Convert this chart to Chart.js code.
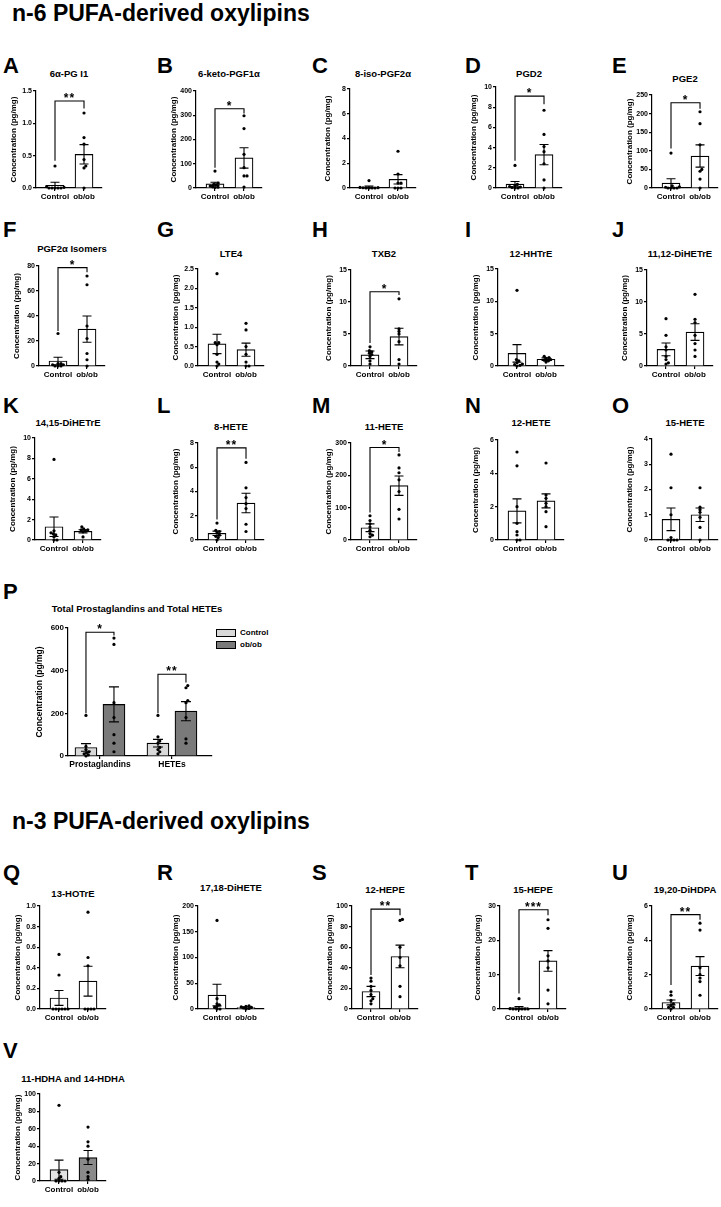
<!DOCTYPE html>
<html>
<head>
<meta charset="utf-8">
<script src="https://cdn.jsdelivr.net/npm/chart.js@4.4.1/dist/chart.umd.min.js"></script>
<style>
  html, body { margin: 0; background: #fff; }
  body { position: relative; width: 721px; height: 1207px; overflow: hidden; font-family: 'Liberation Sans', Arial, sans-serif; }
  canvas { position: absolute; }
  .box { position: absolute; width: 18px; height: 6px; border: 1px solid #000; }
</style>
</head>
<body>
<script>
const categories = ['Control', 'ob/ob'];
const yTitle = 'Concentration (pg/mg)';

// each panel: points per group, bar means, SEM, [axis max, step], [stars, bracket top, left leg, right leg]
const pgi1Pts = [[0.34, 0.02, 0.01, 0, 0, 0, 0, 0], [1.16, 0.78, 0.68, 0.44, 0.34, 0.31, 0]];
const pgi1Bar = [0.04, 0.52];
const pgi1Err = [0.05, 0.15];
const pgi1Axis = [1.5, 0.5];
const pgi1Sig = ['**', 1.345, 0.42, 1.23];

const ketoPts = [[70, 20, 15, 12, 8, 5, 3, 2], [298, 245, 139, 84, 50, 50, 4]];
const ketoBar = [17, 124];
const ketoErr = [7, 42];
const ketoAxis = [400, 100];
const ketoSig = ['*', 327, 84, 307];

const isoPts = [[0.6, 0.05, 0.03, 0.02, 0, 0, 0, 0], [2.97, 1.13, 0.4, 0.4, 0, 0, 0]];
const isoBar = [0.08, 0.7];
const isoErr = [0.07, 0.38];
const isoAxis = [8, 2];

const pgd2Pts = [[2.24, 0.35, 0.25, 0.15, 0.1, 0.05, 0, 0], [7.7, 5.3, 4.1, 3.6, 2.4, 0.8, 0]];
const pgd2Bar = [0.38, 3.3];
const pgd2Err = [0.26, 1.0];
const pgd2Axis = [10, 2];
const pgd2Sig = ['*', 9.1, 2.7, 8.3];

const pge2Pts = [[94, 6, 3, 2, 0, 0, 0, 0], [205, 173, 116, 50, 45, 24, 0]];
const pge2Bar = [13, 86];
const pge2Err = [12, 30];
const pge2Axis = [250, 50];
const pge2Sig = ['*', 229, 106, 213];

const pgfIsoPts = [[26, 2, 2, 1, 1, 0, 0, 0], [72, 65, 32, 22, 10, 5, 0]];
const pgfIsoBar = [4, 29.5];
const pgfIsoErr = [3, 10.5];
const pgfIsoAxis = [80, 20];
const pgfIsoSig = ['*', 78.7, 28, 75];

const lte4Pts = [[2.38, 0.6, 0.6, 0.55, 0.3, 0.1, 0.05, 0], [1.1, 0.93, 0.5, 0.3, 0.1, 0, 0]];
const lte4Bar = [0.57, 0.42];
const lte4Err = [0.25, 0.17];
const lte4Axis = [2.5, 0.5];

const txb2Pts = [[3.0, 2.4, 2.2, 2.0, 1.8, 1.5, 0.8, 0.3], [10.5, 5.8, 5.4, 5.0, 3.8, 1.0, 0.3]];
const txb2Bar = [1.75, 4.6];
const txb2Err = [0.6, 1.3];
const txb2Axis = [15, 5];
const txb2Sig = ['*', 11.6, 3.6, 11.1];

const hhtrePts = [[11.7, 1.0, 0.8, 0.5, 0.3, 0.2, 0.1, 0], [1.5, 1.3, 1.2, 1.0, 0.9, 0.8, 0.6]];
const hhtreBar = [1.95, 1.05];
const hhtreErr = [1.35, 0.2];
const hhtreAxis = [15, 5];

const dh1112Pts = [[7.4, 4.8, 3.0, 2.5, 1.5, 1.0, 0.5, 0.3], [11.2, 7.3, 6.8, 4.8, 3.5, 2.5, 1.5]];
const dh1112Bar = [2.6, 5.3];
const dh1112Err = [1.0, 1.3];
const dh1112Axis = [15, 5];

const dh1415Pts = [[7.9, 0.9, 0.7, 0.6, 0.5, 0.3, 0, 0], [1.3, 1.1, 1.0, 1.0, 0.9, 0.8, 0.3]];
const dh1415Bar = [1.3, 0.85];
const dh1415Err = [0.95, 0.15];
const dh1415Axis = [10, 2];

const hete8Pts = [[1.4, 0.8, 0.7, 0.6, 0.4, 0.3, 0.2, 0], [6.4, 4.3, 3.5, 3.0, 2.6, 1.3, 0.7]];
const hete8Bar = [0.55, 3.05];
const hete8Err = [0.18, 0.8];
const hete8Axis = [8, 2];
const hete8Sig = ['**', 7.6, 1.7, 6.7];

const hete11Pts = [[75, 60, 50, 40, 30, 20, 15, 10], [263, 223, 208, 186, 150, 95, 65]];
const hete11Bar = [38, 168];
const hete11Err = [12, 30];
const hete11Axis = [300, 100];
const hete11Sig = ['*', 286, 85, 272];

const hete12Pts = [[5.28, 4.45, 2.0, 1.0, 0.5, 0.3, 0, 0], [4.62, 2.7, 2.5, 2.2, 2.0, 1.7, 0.8]];
const hete12Bar = [1.75, 2.35];
const hete12Err = [0.72, 0.42];
const hete12Axis = [6, 2];

const hete15Pts = [[3.4, 2.07, 1.0, 0.1, 0, 0, 0, 0], [2.07, 1.3, 1.2, 1.1, 0.9, 0.5, 0]];
const hete15Bar = [0.82, 1.0];
const hete15Err = [0.45, 0.27];
const hete15Axis = [4, 1];

const hotrePts = [[0.53, 0.33, 0, 0, 0, 0, 0, 0], [0.94, 0.5, 0.42, 0, 0, 0, 0]];
const hotreBar = [0.107, 0.27];
const hotreErr = [0.072, 0.145];
const hotreAxis = [1.0, 0.2];

const dh1718Pts = [[172, 20, 10, 8, 5, 3, 0, 0], [6, 5, 4, 3, 2, 1, 0]];
const dh1718Bar = [27, 3];
const dh1718Err = [21, 1.5];
const dh1718Axis = [200, 50];

const hepe12Pts = [[30, 27, 22, 18, 14, 10, 8, 5], [87, 86, 60, 50, 42, 22, 12]];
const hepe12Bar = [17, 51];
const hepe12Err = [5, 11];
const hepe12Axis = [100, 20];
const hepe12Sig = ['**', 97, 33, 91];

const hepe15Pts = [[3.0, 0.1, 0, 0, 0, 0, 0, 0], [26, 23.5, 15.5, 14, 12, 5.5, 1.5]];
const hepe15Bar = [0.4, 14];
const hepe15Err = [0.35, 3.0];
const hepe15Axis = [30, 10];
const hepe15Sig = ['***', 28.9, 4.5, 27.3];

const dhdpaPts = [[1.0, 0.8, 0.5, 0.3, 0.2, 0.1, 0.1, 0], [5.0, 4.6, 2.4, 2.0, 1.8, 1.6, 0.8]];
const dhdpaBar = [0.38, 2.5];
const dhdpaErr = [0.14, 0.55];
const dhdpaAxis = [6, 2];
const dhdpaSig = ['**', 5.5, 1.4, 5.2];

const hdhaPts = [[87, 10, 5, 3, 0, 0, 0, 0], [62, 45, 40, 25, 10, 5, 2]];
const hdhaBar = [13, 27];
const hdhaErr = [11, 8];
const hdhaAxis = [100, 20];

// panel P: totals
const totalGroups = ['Prostaglandins', 'HETEs'];
const totalCtlPts = [[190, 45, 30, 20, 15, 10, 5, 0], [190, 90, 70, 60, 40, 30, 20, 10]];
const totalObPts = [[553, 523, 250, 180, 100, 60, 20], [330, 320, 260, 250, 180, 80, 60]];
const totalCtlBar = [40, 60];
const totalCtlErr = [18, 18];
const totalObBar = [242, 210];
const totalObErr = [82, 45];
const totalAxis = [600, 200];
const totalSig = [['*', 580, 200, 565], ['**', 383, 200, 345]];

Chart.defaults.font.family = "'Liberation Sans', Arial, sans-serif";
Chart.defaults.color = '#000';

const panels = [
  { letter: 'A', title: '6α-PG I1', pts: pgi1Pts, bar: pgi1Bar, err: pgi1Err, axis: pgi1Axis, sig: pgi1Sig, lx: 3, ly: 66, ty: 74, ax: 36, top: 91, bottom: 188 },
  { letter: 'B', title: '6-keto-PGF1α', pts: ketoPts, bar: ketoBar, err: ketoErr, axis: ketoAxis, sig: ketoSig, lx: 157, ly: 66, ty: 74, ax: 196, top: 91, bottom: 188 },
  { letter: 'C', title: '8-iso-PGF2α', pts: isoPts, bar: isoBar, err: isoErr, axis: isoAxis, lx: 312, ly: 66, ty: 74, ax: 350, top: 89, bottom: 188 },
  { letter: 'D', title: 'PGD2', pts: pgd2Pts, bar: pgd2Bar, err: pgd2Err, axis: pgd2Axis, sig: pgd2Sig, lx: 465, ly: 66, ty: 74, ax: 496, top: 87, bottom: 188 },
  { letter: 'E', title: 'PGE2', pts: pge2Pts, bar: pge2Bar, err: pge2Err, axis: pge2Axis, sig: pge2Sig, lx: 612, ly: 66, ty: 79, ax: 652, top: 95, bottom: 188 },
  { letter: 'F', title: 'PGF2α Isomers', pts: pgfIsoPts, bar: pgfIsoBar, err: pgfIsoErr, axis: pgfIsoAxis, sig: pgfIsoSig, lx: 3, ly: 230, ty: 249, ax: 39, top: 266, bottom: 366 },
  { letter: 'G', title: 'LTE4', pts: lte4Pts, bar: lte4Bar, err: lte4Err, axis: lte4Axis, lx: 157, ly: 230, ty: 254, ax: 198, top: 269, bottom: 366 },
  { letter: 'H', title: 'TXB2', pts: txb2Pts, bar: txb2Bar, err: txb2Err, axis: txb2Axis, sig: txb2Sig, lx: 312, ly: 230, ty: 254, ax: 351, top: 270, bottom: 366 },
  { letter: 'I', title: '12-HHTrE', pts: hhtrePts, bar: hhtreBar, err: hhtreErr, axis: hhtreAxis, lx: 465, ly: 230, ty: 254, ax: 498, top: 269, bottom: 366 },
  { letter: 'J', title: '11,12-DiHETrE', pts: dh1112Pts, bar: dh1112Bar, err: dh1112Err, axis: dh1112Axis, lx: 612, ly: 230, ty: 254, ax: 647, top: 270, bottom: 366 },
  { letter: 'K', title: '14,15-DiHETrE', pts: dh1415Pts, bar: dh1415Bar, err: dh1415Err, axis: dh1415Axis, lx: 3, ly: 406, ty: 423, ax: 35, top: 438, bottom: 540 },
  { letter: 'L', title: '8-HETE', pts: hete8Pts, bar: hete8Bar, err: hete8Err, axis: hete8Axis, sig: hete8Sig, lx: 157, ly: 406, ty: 427, ax: 198, top: 443, bottom: 540 },
  { letter: 'M', title: '11-HETE', pts: hete11Pts, bar: hete11Bar, err: hete11Err, axis: hete11Axis, sig: hete11Sig, lx: 312, ly: 406, ty: 427, ax: 351, top: 443, bottom: 540 },
  { letter: 'N', title: '12-HETE', pts: hete12Pts, bar: hete12Bar, err: hete12Err, axis: hete12Axis, lx: 465, ly: 406, ty: 423, ax: 498, top: 440, bottom: 540 },
  { letter: 'O', title: '15-HETE', pts: hete15Pts, bar: hete15Bar, err: hete15Err, axis: hete15Axis, lx: 612, ly: 406, ty: 423, ax: 652, top: 439, bottom: 540 },
  { letter: 'Q', title: '13-HOTrE', pts: hotrePts, bar: hotreBar, err: hotreErr, axis: hotreAxis, lx: 3, ly: 873, ty: 894, ax: 40, top: 906, bottom: 1009 },
  { letter: 'R', title: '17,18-DiHETE', pts: dh1718Pts, bar: dh1718Bar, err: dh1718Err, axis: dh1718Axis, lx: 157, ly: 873, ty: 888, ax: 198, top: 906, bottom: 1009 },
  { letter: 'S', title: '12-HEPE', pts: hepe12Pts, bar: hepe12Bar, err: hepe12Err, axis: hepe12Axis, sig: hepe12Sig, lx: 312, ly: 873, ty: 890, ax: 352, top: 906, bottom: 1009 },
  { letter: 'T', title: '15-HEPE', pts: hepe15Pts, bar: hepe15Bar, err: hepe15Err, axis: hepe15Axis, sig: hepe15Sig, lx: 465, ly: 873, ty: 890, ax: 500, top: 906, bottom: 1009 },
  { letter: 'U', title: '19,20-DiHDPA', pts: dhdpaPts, bar: dhdpaBar, err: dhdpaErr, axis: dhdpaAxis, sig: dhdpaSig, lx: 612, ly: 873, ty: 890, ax: 652, top: 906, bottom: 1009 },
  { letter: 'V', title: '11-HDHA and 14-HDHA', pts: hdhaPts, bar: hdhaBar, err: hdhaErr, axis: hdhaAxis, lx: 3, ly: 1051, ty: 1079, ax: 40, top: 1094, bottom: 1181, fill: ['#e2e2e2', '#8a8a8a'] }
];

function label(text, x, y, size, center) {
  const d = document.createElement('div');
  d.textContent = text;
  d.style.cssText = 'position:absolute;left:' + x + 'px;top:' + y + 'px;font:bold ' + size +
    "px 'Liberation Sans',Arial,sans-serif;line-height:1;white-space:nowrap;transform:translate(" +
    (center ? '-50%' : '0') + ',-50%)';
  document.body.appendChild(d);
}

function addCanvas(left, top, w, h) {
  const c = document.createElement('canvas');
  c.width = w; c.height = h;
  c.style.left = left + 'px'; c.style.top = top + 'px';
  c.style.width = w + 'px'; c.style.height = h + 'px';
  document.body.appendChild(c);
  return c;
}

// simple beeswarm, spacing in pixels, returned in data units
function swarm(vals, center, pxX, pxY) {
  const placed = [], out = [];
  const sorted = vals.slice().sort((a, b) => a - b);
  for (const v of sorted) {
    const py = v * pxY;
    let off = 0;
    for (let k = 0; k < 80; k++) {
      const o = (k % 2 ? 1 : -1) * Math.ceil(k / 2) * 0.6;
      if (placed.every(q => Math.hypot(q.o - o, q.py - py) >= 2.5)) { off = o; break; }
    }
    placed.push({ o: off, py });
    out.push({ x: center + off / pxX, y: v });
  }
  return out;
}

function overlay(brackets, cap) {
  return {
    id: 'overlay',
    afterDatasetDraw(chart, args) {
      if (args.meta.type !== 'bar') return;
      const ds = chart.data.datasets[args.index];
      const ys = chart.scales.y, ctx = chart.ctx;
      ctx.save();
      ctx.strokeStyle = '#000';
      ctx.lineWidth = 1.1;
      args.meta.data.forEach((el, i) => {
        const m = ds.data[i].y, e = ds.err[i];
        const hi = ys.getPixelForValue(m + e);
        const lo = ys.getPixelForValue(Math.max(0, m - e));
        ctx.beginPath();
        ctx.moveTo(el.x, lo); ctx.lineTo(el.x, hi);
        ctx.moveTo(el.x - cap, hi); ctx.lineTo(el.x + cap, hi);
        if (m - e > 0) { ctx.moveTo(el.x - cap, lo); ctx.lineTo(el.x + cap, lo); }
        ctx.stroke();
      });
      ctx.restore();
    },
    afterDatasetsDraw(chart) {
      const xs = chart.scales.x, ys = chart.scales.y, ctx = chart.ctx;
      ctx.save();
      ctx.strokeStyle = '#000';
      ctx.fillStyle = '#000';
      ctx.lineWidth = 1.1;
      ctx.font = "bold 12px 'Liberation Sans', Arial, sans-serif";
      ctx.textAlign = 'center';
      ctx.textBaseline = 'alphabetic';
      ctx.letterSpacing = '1px';
      brackets.forEach(([txt, top, lo0, lo1, x0, x1]) => {
        const p0 = xs.getPixelForValue(x0), p1 = xs.getPixelForValue(x1);
        const pt = ys.getPixelForValue(top);
        ctx.beginPath();
        ctx.moveTo(p0, ys.getPixelForValue(lo0));
        ctx.lineTo(p0, pt);
        ctx.lineTo(p1, pt);
        ctx.lineTo(p1, ys.getPixelForValue(lo1));
        ctx.stroke();
        ctx.fillText(txt, (p0 + p1) / 2, pt + 1);
      });
      ctx.restore();
    }
  };
}

function xScale(min, max, labels, h, size) {
  return {
    type: 'linear', min, max, offset: false,
    afterBuildTicks: s => { s.ticks = labels.map((_, i) => ({ value: i })); },
    afterFit: s => { s.height = h; },
    grid: { drawOnChartArea: false, drawTicks: true, tickLength: 3, color: '#000', lineWidth: 1.2, offset: false },
    border: { color: '#000', width: 1.2 },
    ticks: { callback: v => labels[v], font: { size, weight: 'bold' }, color: '#000', padding: 1, maxRotation: 0, autoSkip: false }
  };
}

function yScale(axis, w, tickSize, titleSize, titlePad) {
  const dec = axis[1] < 1 ? 1 : 0;
  return {
    type: 'linear', min: 0, max: axis[0],
    afterFit: s => { s.width = w; },
    grid: { drawOnChartArea: false, drawTicks: true, tickLength: 3, color: '#000', lineWidth: 1.2 },
    border: { color: '#000', width: 1.2 },
    ticks: { stepSize: axis[1], callback: v => v.toFixed(dec), font: { size: tickSize, weight: 'bold' }, color: '#000', padding: 1 },
    title: { display: true, text: yTitle, font: { size: titleSize, weight: 'bold' }, color: '#000', padding: { top: titlePad, bottom: 0 } }
  };
}

// small panels
const YW = 30, PT = 18, XH = 22, PW = 66, PR = 4, XMIN = -0.655, XMAX = 1.62;

panels.forEach(p => {
  label(p.letter, p.lx, p.ly, 22, false);
  label(p.title, p.ax + 33, p.ty, 9.5, true);
  const plotH = p.bottom - p.top;
  const cv = addCanvas(p.ax - YW, p.top - PT, YW + PW + PR, PT + plotH + XH);
  const pxX = PW / (XMAX - XMIN), pxY = plotH / p.axis[0];
  const fill = p.fill || ['#fff', '#fff'];
  const datasets = [{
    type: 'bar', data: p.bar.map((m, i) => ({ x: i, y: m })), err: p.err,
    backgroundColor: fill, borderColor: '#000', borderWidth: 1.2, barThickness: 18, order: 2, clip: false
  }];
  p.pts.forEach((vals, i) => datasets.push({
    type: 'scatter', data: swarm(vals, i, pxX, pxY), pointRadius: 1.6,
    pointBackgroundColor: '#000', pointBorderWidth: 0, order: 1, clip: false
  }));
  new Chart(cv, {
    type: 'scatter',
    data: { datasets },
    options: {
      responsive: false, animation: false, devicePixelRatio: 1,
      layout: { padding: { top: PT, right: PR, left: 0, bottom: 0 } },
      plugins: { legend: { display: false }, tooltip: { enabled: false } },
      scales: { x: xScale(XMIN, XMAX, categories, XH, 8), y: yScale(p.axis, YW, 7, 8, 3.2) }
    },
    plugins: [overlay(p.sig ? [[...p.sig, 0, 1]] : [], 4.5)]
  });
});

// panel P
(function () {
  label('P', 3, 592, 22, false);
  label('Total Prostaglandins and Total HETEs', 137, 609, 9.5, true);
  const ax = 68, top = 628, bottom = 756, yw = 38, pt = 22, xh = 24, pw = 144, pr = 4;
  const xmin = -0.444, xmax = 1.556;
  const plotH = bottom - top;
  const pxX = pw / (xmax - xmin), pxY = plotH / totalAxis[0];
  const off = 14 / pxX;
  const cv = addCanvas(ax - yw, top - pt, yw + pw + pr, pt + plotH + xh);
  const bar = (vals, err, color) => ({
    type: 'bar', data: vals.map((m, i) => ({ x: i, y: m })), err,
    backgroundColor: color, borderColor: '#000', borderWidth: 1.2,
    barThickness: 28, maxBarThickness: 22, order: 2, clip: false
  });
  const datasets = [bar(totalCtlBar, totalCtlErr, '#d9d9d9'), bar(totalObBar, totalObErr, '#7a7a7a')];
  totalCtlPts.forEach((vals, g) => datasets.push({ type: 'scatter', data: swarm(vals, g - off, pxX, pxY), pointRadius: 1.6, pointBackgroundColor: '#000', pointBorderWidth: 0, order: 1, clip: false }));
  totalObPts.forEach((vals, g) => datasets.push({ type: 'scatter', data: swarm(vals, g + off, pxX, pxY), pointRadius: 1.6, pointBackgroundColor: '#000', pointBorderWidth: 0, order: 1, clip: false }));
  new Chart(cv, {
    type: 'scatter',
    data: { datasets },
    options: {
      responsive: false, animation: false, devicePixelRatio: 1,
      layout: { padding: { top: pt, right: pr, left: 0, bottom: 0 } },
      plugins: { legend: { display: false }, tooltip: { enabled: false } },
      scales: { x: xScale(xmin, xmax, totalGroups, xh, 8.5), y: yScale(totalAxis, yw, 8, 8.5, 4.9) }
    },
    plugins: [overlay(totalSig.map((s, g) => [...s, g - off, g + off]), 5)]
  });
  // legend
  [['Control', '#d9d9d9', 633], ['ob/ob', '#7a7a7a', 645]].forEach(([t, c, y]) => {
    const b = document.createElement('div');
    b.className = 'box';
    b.style.left = '216px'; b.style.top = (y - 4) + 'px'; b.style.background = c;
    document.body.appendChild(b);
    label(t, 240, y, 8, false);
  });
})();

label('n-6 PUFA-derived oxylipins', 12, 12.5, 23, false);
label('n-3 PUFA-derived oxylipins', 12, 820.5, 23, false);
</script>
</body>
</html>
